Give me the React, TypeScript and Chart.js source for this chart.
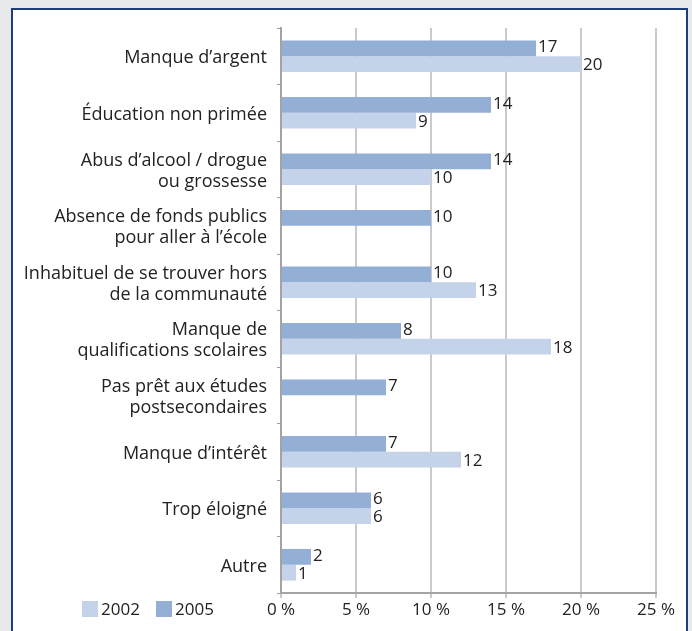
import React, { useEffect, useRef } from 'react';
import { Chart, registerables } from 'chart.js';
Chart.register(...registerables);

const categories: string[][] = [
  ['Manque d’argent'],
  ['Éducation non primée'],
  ['Abus d’alcool / drogue', 'ou grossesse'],
  ['Absence de fonds publics', 'pour aller à l’école'],
  ['Inhabituel de se trouver hors', 'de la communauté'],
  ['Manque de', 'qualifications scolaires'],
  ['Pas prêt aux études', 'postsecondaires'],
  ['Manque d’intérêt'],
  ['Trop éloigné'],
  ['Autre'],
];
const values2005: (number | null)[] = [17, 14, 14, 10, 10, 8, 7, 7, 6, 2];
const values2002: (number | null)[] = [20, 9, 10, null, 13, 18, null, 12, 6, 1];
const xTickValues = [0, 5, 10, 15, 20, 25];
const legendLabels = ['2002', '2005'];

const COLOR_2005 = '#93afd6';
const COLOR_2002 = '#c5d3ea';
const FONT = '"Open Sans", Lato, sans-serif';

const dataLabelPlugin = {
  id: 'dataLabels',
  afterDatasetsDraw(chart: any) {
    const ctx = chart.ctx;
    ctx.save();
    ctx.font = `17px ${FONT}`;
    ctx.fillStyle = '#222';
    ctx.textAlign = 'left';
    ctx.textBaseline = 'middle';
    chart.data.datasets.forEach((ds: any, di: number) => {
      const meta = chart.getDatasetMeta(di);
      meta.data.forEach((bar: any, i: number) => {
        const v = ds.data[i];
        if (v === null || v === undefined) return;
        ctx.fillText(String(v), bar.x + 2, bar.y + (di === 0 ? -1 : 1));
      });
    });
    ctx.restore();
  },
};

const legendPlugin = {
  id: 'customLegend',
  afterDraw(chart: any) {
    const ctx = chart.ctx;
    const y = chart.chartArea.bottom + 16;
    ctx.save();
    ctx.font = `17px ${FONT}`;
    ctx.textBaseline = 'middle';
    ctx.textAlign = 'left';
    const colors = [COLOR_2002, COLOR_2005];
    let x = 82;
    legendLabels.forEach((lab, i) => {
      ctx.fillStyle = colors[i];
      ctx.fillRect(x, y - 8, 16, 16);
      ctx.fillStyle = '#222';
      ctx.fillText(lab, x + 19, y + 1);
      x += 74;
    });
    ctx.restore();
  },
};

export default function App() {
  const ref = useRef<HTMLCanvasElement>(null);
  useEffect(() => {
    if (!ref.current) return;
    const chart = new Chart(ref.current, {
      type: 'bar',
      data: {
        labels: categories,
        datasets: [
          { label: '2005', data: values2005, backgroundColor: COLOR_2005, categoryPercentage: 0.56, barPercentage: 1 },
          { label: '2002', data: values2002, backgroundColor: COLOR_2002, categoryPercentage: 0.56, barPercentage: 1 },
        ],
      },
      options: {
        indexAxis: 'y',
        animation: false,
        responsive: false,
        layout: { padding: { top: 28, right: 36, left: 0, bottom: 0 } },
        plugins: { legend: { display: false }, tooltip: { enabled: false } },
        scales: {
          x: {
            min: 0,
            max: 25,
            afterBuildTicks(scale: any) {
              scale.ticks = xTickValues.map((v) => ({ value: v }));
            },
            afterFit(scale: any) {
              scale.height = 38;
            },
            ticks: {
              callback: (v: any) => `${v} %`,
              font: { family: FONT, size: 17 },
              color: '#222',
              padding: 2,
              maxRotation: 0,
            },
            grid: { color: '#cacaca', lineWidth: 2, tickLength: 5 },
            border: { color: '#a3a3a3', width: 2 },
          },
          y: {
            afterFit(scale: any) {
              scale.width = 281;
            },
            ticks: {
              font: { family: FONT, size: 18, lineHeight: 1.17 },
              color: '#222',
              padding: 10,
              labelOffset: 2,
            },
            grid: { drawOnChartArea: false, color: '#a3a3a3', tickLength: 4, lineWidth: 1 },
            border: { color: '#a3a3a3', width: 2 },
          },
        },
      },
      plugins: [dataLabelPlugin, legendPlugin],
    });
    return () => chart.destroy();
  }, []);

  return (
    <div style={{ position: 'fixed', left: 0, top: 0, width: 692, height: 631, background: '#e8e9eb', overflow: 'hidden' }}>
      <div
        style={{
          position: 'absolute',
          left: 11,
          top: 8,
          width: 677,
          height: 660,
          boxSizing: 'border-box',
          border: '2px solid #1c3c7a',
          background: '#ffffff',
        }}
      />
      <canvas ref={ref} width={692} height={631} style={{ position: 'absolute', left: 0, top: 0 }} />
    </div>
  );
}
